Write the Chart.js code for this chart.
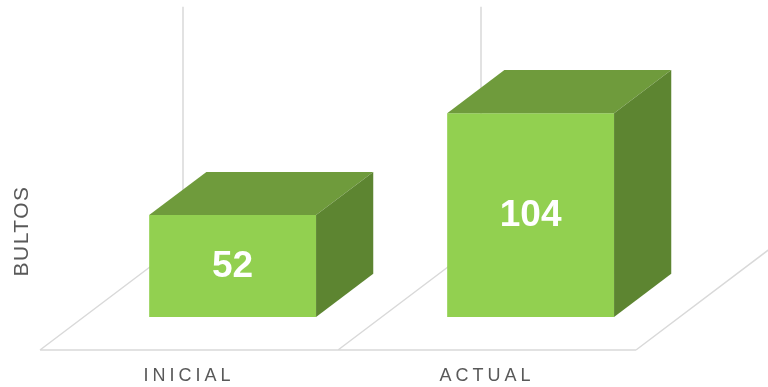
<!DOCTYPE html>
<html>
<head>
<meta charset="utf-8">
<script src="https://cdn.jsdelivr.net/npm/chart.js@4/dist/chart.umd.min.js"></script>
<style>
  html, body { margin: 0; padding: 0; background: #ffffff; }
  #wrap { width: 768px; height: 387px; }
</style>
</head>
<body>
<div id="wrap"><canvas id="c" width="768" height="387"></canvas></div>
<script>
// ---- data ----
const categories = ['INICIAL', 'ACTUAL'];
const bultos = [52, 104];
const axisTitle = 'BULTOS';
const wallTopValue = 120;

// ---- style (3D projection) ----
const DEPTH_X = 143, DEPTH_Y = -108;      // full floor depth vector
const BAR_FRONT = 0.305, BAR_DEPTH = 0.40; // fractions of the floor depth
const COL_FRONT = '#92D050', COL_TOP = '#6F9B3C', COL_SIDE = '#5D8531';
const GRID_COL = '#D9D9D9';
const FONT = "'Liberation Sans', Arial, sans-serif";

const threeD = {
  id: 'threeD',
  beforeDraw(chart) {
    chart.ctx.letterSpacing = '1.5px';
  },
  beforeDatasetsDraw(chart) {
    const ctx = chart.ctx, xs = chart.scales.x, ys = chart.scales.y;
    ctx.letterSpacing = '0px';
    const y0 = ys.getPixelForValue(0);
    const yTop = ys.getPixelForValue(wallTopValue);
    const n = categories.length;
    const cw = (xs.right - xs.left) / n;
    ctx.save();
    ctx.strokeStyle = GRID_COL;
    ctx.lineWidth = 1.5;
    ctx.beginPath();
    ctx.moveTo(xs.left, y0); ctx.lineTo(xs.right, y0);
    for (let i = 0; i <= n; i++) {
      const x = xs.left + i * cw;
      ctx.moveTo(x, y0); ctx.lineTo(x + DEPTH_X, y0 + DEPTH_Y);
      ctx.moveTo(x + DEPTH_X, y0 + DEPTH_Y); ctx.lineTo(x + DEPTH_X, yTop + DEPTH_Y);
    }
    ctx.stroke();
    ctx.restore();
    ctx.save();
    ctx.translate(DEPTH_X * BAR_FRONT, DEPTH_Y * BAR_FRONT);
  },
  afterDatasetsDraw(chart) {
    const ctx = chart.ctx;
    ctx.restore();
    const ox = DEPTH_X * BAR_FRONT, oy = DEPTH_Y * BAR_FRONT;
    const dx = DEPTH_X * BAR_DEPTH, dy = DEPTH_Y * BAR_DEPTH;
    const meta = chart.getDatasetMeta(0);
    ctx.save();
    meta.data.forEach((bar, i) => {
      const p = bar.getProps(['x', 'y', 'base', 'width'], true);
      const l = p.x - p.width / 2 + ox, r = p.x + p.width / 2 + ox;
      const t = p.y + oy, b = p.base + oy;
      ctx.fillStyle = COL_TOP;
      ctx.beginPath();
      ctx.moveTo(l, t); ctx.lineTo(r, t); ctx.lineTo(r + dx, t + dy); ctx.lineTo(l + dx, t + dy);
      ctx.closePath(); ctx.fill();
      ctx.fillStyle = COL_SIDE;
      ctx.beginPath();
      ctx.moveTo(r, t); ctx.lineTo(r + dx, t + dy); ctx.lineTo(r + dx, b + dy); ctx.lineTo(r, b);
      ctx.closePath(); ctx.fill();
      ctx.fillStyle = '#FFFFFF';
      ctx.font = 'bold 37px ' + FONT;
      ctx.textAlign = 'center';
      ctx.textBaseline = 'middle';
      ctx.fillText(String(bultos[i]), (l + r) / 2, (t + b) / 2 + 1);
    });
    ctx.restore();
    ctx.letterSpacing = '4px';
  },
  afterDraw(chart) {
    chart.ctx.letterSpacing = '0px';
  }
};

new Chart(document.getElementById('c'), {
  type: 'bar',
  data: {
    labels: categories,
    datasets: [{
      label: axisTitle,
      data: bultos,
      backgroundColor: COL_FRONT,
      borderWidth: 0,
      barPercentage: 0.56,
      categoryPercentage: 1.0
    }]
  },
  options: {
    responsive: false,
    animation: false,
    devicePixelRatio: 1,
    layout: { padding: { top: 112, right: 132, left: 0, bottom: 0 } },
    plugins: { legend: { display: false }, tooltip: { enabled: false } },
    scales: {
      x: {
        grid: { display: false, drawTicks: false },
        border: { display: false },
        ticks: { z: 1, padding: 15, color: '#595959', font: { family: FONT, size: 18 } },
        afterFit(s) { s.height = 37; }
      },
      y: {
        min: 0, max: 121.4,
        grid: { display: false, drawTicks: false },
        border: { display: false },
        ticks: { display: false },
        title: {
          display: true, text: axisTitle, color: '#595959',
          font: { family: FONT, size: 21 }, padding: { top: 10, bottom: 0 }
        },
        afterFit(s) { s.width = 40; }
      }
    }
  },
  plugins: [threeD]
});
</script>
</body>
</html>
